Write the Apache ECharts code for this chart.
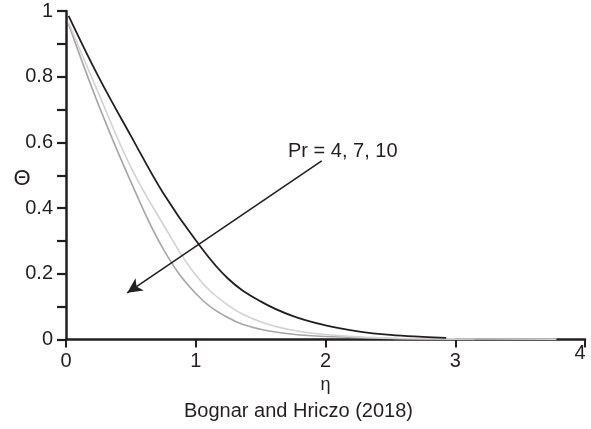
<!DOCTYPE html>
<html>
<head>
<meta charset="utf-8">
<script src="https://cdn.jsdelivr.net/npm/echarts@6/dist/echarts.min.js"></script>
<style>
  html, body { margin: 0; padding: 0; background: #ffffff; }
  #chart { width: 591px; height: 429px; }
</style>
</head>
<body>
<div id="chart"></div>
<script>
// Dimensionless temperature profiles Θ(η) for three Prandtl numbers
const seriesNames = ['Pr = 4', 'Pr = 7', 'Pr = 10'];

const etaPr4   = [0.02, 0.25, 0.5, 0.75, 1.0, 1.25, 1.5, 1.75, 2.0, 2.25, 2.5, 2.75, 2.93];
const thetaPr4 = [0.985, 0.80, 0.62, 0.445, 0.302, 0.185, 0.116, 0.071, 0.043, 0.025, 0.014, 0.008, 0.005];

const etaPr7   = [0.02, 0.25, 0.5, 0.75, 1.0, 1.25, 1.5, 1.75, 2.0, 2.25, 2.5, 3.0, 3.78];
const thetaPr7 = [0.965, 0.75, 0.525, 0.35, 0.196, 0.104, 0.054, 0.028, 0.015, 0.008, 0.004, 0.002, 0.001];

const etaPr10   = [0.02, 0.25, 0.5, 0.75, 1.0, 1.25, 1.5, 1.75, 2.0, 2.5, 3.15];
const thetaPr10 = [0.96, 0.715, 0.48, 0.275, 0.14, 0.066, 0.031, 0.016, 0.009, 0.003, 0.0];

// Axis ranges and tick spacing
const xMin = 0, xMax = 4, xStep = 1;
const yMin = 0, yMax = 1, yStep = 0.2;

// Annotation: arrow showing increasing Pr, and its label
const arrowFrom = [1.971, 0.544];
const arrowTo   = [0.472, 0.142];
const arrowText = 'Pr = 4, 7, 10';
const arrowTextAt = [1.711, 0.571];

const xName = 'η';
const yName = 'Θ';
const yNameAt = 0.49;
const caption = 'Bognar and Hriczo (2018)';

const FONT = '"Liberation Sans", Arial, Helvetica, sans-serif';
const INK = '#231f20';
const lineColors = ['#231f20', '#d2d2d2', '#a6a6a6'];

function pairs(xs, ys) { return xs.map((x, i) => [x, ys[i]]); }

const chart = echarts.init(document.getElementById('chart'), null, { renderer: 'canvas' });

const curveData = [pairs(etaPr4, thetaPr4), pairs(etaPr7, thetaPr7), pairs(etaPr10, thetaPr10)];

const series = curveData.map((d, i) => ({
  name: seriesNames[i],
  type: 'line',
  data: d,
  showSymbol: false,
  smooth: 0.4,
  lineStyle: { color: lineColors[i], width: i === 0 ? 1.8 : 1.6 },
  z: 3 - i,
  animation: false
}));

// Arrow drawn as a mark line on the first series
series[0].markLine = {
  silent: true,
  symbol: ['none', 'arrow'],
  symbolSize: [11, 15],
  label: { show: false },
  lineStyle: { color: INK, width: 1.6, type: 'solid' },
  data: [[{ coord: arrowFrom }, { coord: arrowTo }]],
  animation: false
};

chart.setOption({
  backgroundColor: '#ffffff',
  animation: false,
  grid: { left: 66, right: 6, top: 11, bottom: 89.5, containLabel: false },
  xAxis: {
    type: 'value',
    min: xMin, max: xMax, interval: xStep,
    name: xName,
    nameLocation: 'middle',
    nameGap: 36,
    nameTextStyle: { fontFamily: FONT, fontSize: 18, color: INK },
    axisLine: { show: true, onZero: false, lineStyle: { color: INK, width: 2.5 } },
    axisTick: { show: true, inside: false, length: 8, lineStyle: { color: INK, width: 2 } },
    axisLabel: {
      margin: 12, fontFamily: FONT, fontSize: 20, color: INK,
      formatter: v => (v === xMax ? '' : String(v))
    },
    splitLine: { show: false }
  },
  yAxis: {
    type: 'value',
    min: yMin, max: yMax, interval: yStep,
    axisLine: { show: true, onZero: false, lineStyle: { color: INK, width: 2.5 } },
    axisTick: { show: true, inside: false, length: 9, lineStyle: { color: INK, width: 2.2 } },
    minorTick: { show: true, splitNumber: 2, length: 9, lineStyle: { color: INK, width: 2.2 } },
    axisLabel: { margin: 13, fontFamily: FONT, fontSize: 20, color: INK },
    splitLine: { show: false }
  },
  series: series
});

// Text placed from data coordinates once the grid is laid out
function placeText() {
  const p = chart.convertToPixel({ gridIndex: 0 }, arrowTextAt);
  const end = chart.convertToPixel({ gridIndex: 0 }, [xMax, yMin]);
  const mid = chart.convertToPixel({ gridIndex: 0 }, [(xMin + xMax) / 2, yMin]);
  const yn = chart.convertToPixel({ gridIndex: 0 }, [xMin, yNameAt]);
  chart.setOption({
    graphic: [
      {
        type: 'text', x: p[0], y: p[1], silent: true,
        style: { text: arrowText, fontFamily: FONT, fontSize: 20, fill: INK,
                 textAlign: 'left', textVerticalAlign: 'middle' }
      },
      {
        type: 'text', x: end[0] - 5, y: end[1] + 14, silent: true,
        style: { text: String(xMax), fontFamily: FONT, fontSize: 20, fill: INK,
                 textAlign: 'center', textVerticalAlign: 'middle' }
      },
      {
        type: 'text', x: yn[0] - 44, y: yn[1], silent: true,
        style: { text: yName, fontFamily: FONT, fontSize: 22, fill: INK,
                 textAlign: 'center', textVerticalAlign: 'middle' }
      },
      {
        type: 'text', x: mid[0] - 27, y: 411, silent: true,
        style: { text: caption, fontFamily: FONT, fontSize: 20, fill: INK,
                 textAlign: 'center', textVerticalAlign: 'middle' }
      }
    ]
  });
}
placeText();
</script>
</body>
</html>
